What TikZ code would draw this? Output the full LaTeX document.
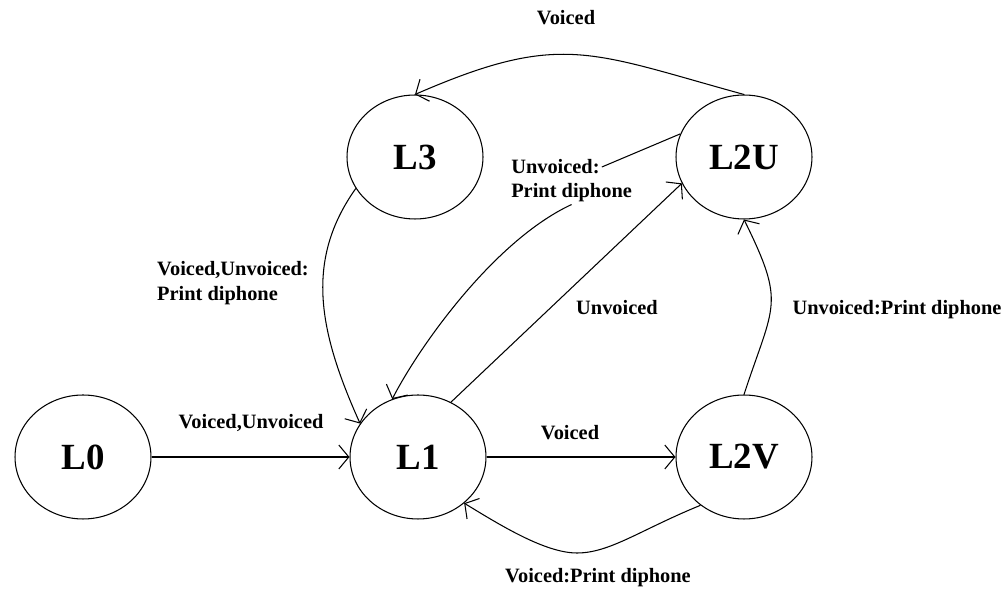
\documentclass[tikz,border=0pt]{standalone}
\usepackage{fontspec}
\setmainfont{Liberation Serif}
\usetikzlibrary{arrows.meta,shapes.geometric}

\tikzset{
	state/.style = {draw, ellipse, minimum width=2.72cm, minimum height=2.48cm, inner sep=0pt,
			font=\fontsize{21}{25}\selectfont\bfseries},
	lbl/.style = {font=\fontsize{11.6}{14.5}\selectfont\bfseries, inner sep=1pt},
	arr/.style = {-{Straight Barb[length=2mm,width=4.8mm]}},
}

\begin{document}
\begin{tikzpicture}[x=0.02cm, y=-0.02cm, line width=0.6pt]
			\path[use as bounding box] (0,0) rectangle (1005,590);
			% states
			\node[state] (L0) at (83,457) {L0};
			\node[state] (L1) at (418,457) {L1};
			\node[state] (L2V) at (744,457) {L2V};
			\node[state] (L3) at (415,157) {L3};
			\node[state] (L2U) at (744,157) {L2U};
			% labels
			\node[lbl] (lVU) at (251,423) {Voiced,Unvoiced};
			\node[lbl] (lV) at (570,433) {Voiced};
			\node[lbl] (lVP) at (598,578) {Voiced:Print diphone};
			\node[lbl] (lU) at (617,308) {Unvoiced};
			\node[lbl, anchor=west] (uv1) at (509,167) {Unvoiced:};
			\node[lbl, anchor=west] (uv2) at (509,193) {Print diphone};
			\node[lbl, align=left] (lVUP) at (233,283) {Voiced,Unvoiced:\\Print diphone};
			\node[lbl] (lVtop) at (566,18) {Voiced};
			\node[lbl] (lUP) at (897,310) {Unvoiced:Print diphone};
			% transitions
			\draw[arr] (L0) -- (L1);
			\draw[arr] (L1) -- (L2V);
			\draw[arr] (L2V.228) .. controls (640,530) and (610,553) .. (577,553)
				.. controls (545,553) and (500,525) .. (L1.-45);
			\draw[arr] (L1.59) -- (L2U.203);
			\draw (L2U.160) -- (uv1.east);
			\draw[arr] (uv2.south) .. controls (495,240) and (420,345) .. (L1.114);
			\draw[arr] (L3.208) .. controls (305,260) and (318,330) .. (L1.150);
			\draw[arr] (L2U.north) .. controls (589,52) and (561,31) .. (L3.north);
			\draw[arr] (L2V.north) .. controls (774,303) and (786,305) .. (L2U.south);
		\end{tikzpicture}
\end{document}
